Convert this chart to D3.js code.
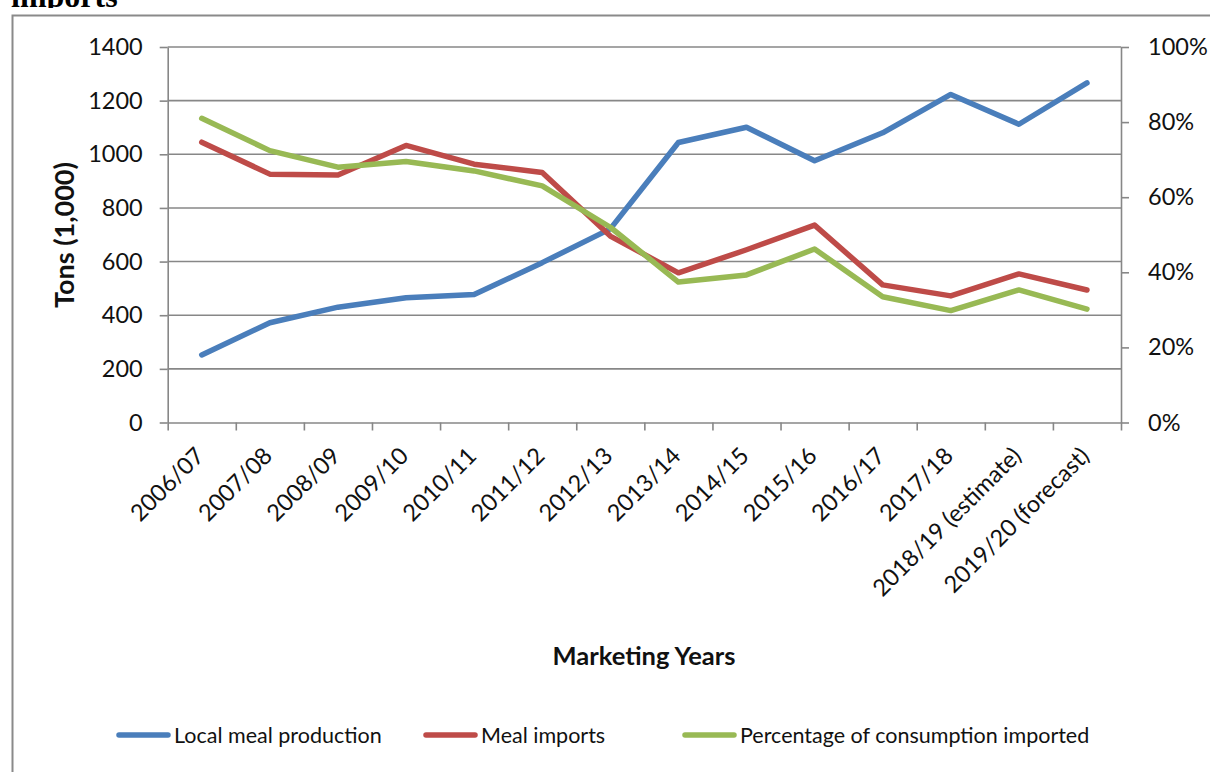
<!DOCTYPE html>
<html>
<head>
<meta charset="utf-8">
<script src="https://cdn.jsdelivr.net/npm/d3@7"></script>
<style>
  html, body { margin: 0; padding: 0; background: #fff; }
  svg { display: block; }
  text { font-family: Lato, "Open Sans", sans-serif; fill: #111; }
</style>
</head>
<body>
<svg id="chart" width="1210" height="772"></svg>
<script>
// Marketing years on the category axis
const years = ["2006/07", "2007/08", "2008/09", "2009/10", "2010/11", "2011/12", "2012/13",
  "2013/14", "2014/15", "2015/16", "2016/17", "2017/18", "2018/19 (estimate)", "2019/20 (forecast)"];

// Tons (1,000)
const localProduction = [252, 372, 430, 465, 477, 596, 722, 1044, 1101, 976, 1080, 1223, 1112, 1266];
const mealImports = [1045, 926, 923, 1033, 963, 932, 695, 558, 644, 736, 513, 472, 554, 494];

// Share of consumption that is imported (secondary axis)
const pctImported = [0.81, 0.724, 0.68, 0.695, 0.67, 0.63, 0.52, 0.374, 0.393, 0.462, 0.335, 0.298, 0.353, 0.302];

const leftTicks = [0, 200, 400, 600, 800, 1000, 1200, 1400];
const rightTicks = [0, 0.2, 0.4, 0.6, 0.8, 1.0];

const seriesNames = ["Local meal production", "Meal imports", "Percentage of consumption imported"];
const seriesColors = ["#4a7ebb", "#be4b48", "#98b954"];

const svg = d3.select("#chart");
const plot = { left: 167.7, right: 1121, top: 47, bottom: 422.5 };
const gridColor = "#878787";

// Page heading, only its lower edge shows above the frame
svg.append("clipPath").attr("id", "headClip")
  .append("rect").attr("x", 0).attr("y", 0).attr("width", 400).attr("height", 8);
svg.append("text")
  .attr("clip-path", "url(#headClip)")
  .attr("x", 11).attr("y", 6.5)
  .style("font-family", "'Liberation Serif', 'Times New Roman', serif")
  .style("font-weight", "bold").style("font-size", "32px").style("fill", "#000")
  .text("imports");

// Chart frame
svg.append("rect")
  .attr("x", 12.5).attr("y", 15.5).attr("width", 1210).attr("height", 780)
  .attr("fill", "none").attr("stroke", "#8a8a8a").attr("stroke-width", 2);

const x = d3.scaleBand().domain(years).range([plot.left, plot.right]).padding(0);
const xEdge = d3.scaleLinear().domain([0, years.length]).range([plot.left, plot.right]);
const y = d3.scaleLinear().domain([0, 1400]).range([plot.bottom, plot.top]);
const y2 = d3.scaleLinear().domain([0, 1]).range([plot.bottom, plot.top]);
const cx = d => x(d) + x.bandwidth() / 2;

// Horizontal gridlines
svg.append("g").selectAll("line")
  .data(leftTicks.filter(t => t > 0)).join("line")
  .attr("x1", plot.left).attr("x2", plot.right)
  .attr("y1", d => y(d)).attr("y2", d => y(d))
  .attr("stroke", gridColor).attr("stroke-width", 1.6);

// Left axis
const gLeft = svg.append("g").attr("transform", `translate(${plot.left},0)`)
  .call(d3.axisLeft(y).tickValues(leftTicks).tickSize(8).tickPadding(17).tickSizeOuter(0)
    .tickFormat(d3.format("d")));
// Right axis
const gRight = svg.append("g").attr("transform", `translate(${plot.right},0)`)
  .call(d3.axisRight(y2).tickValues(rightTicks).tickSize(8).tickPadding(19).tickSizeOuter(0)
    .tickFormat(d3.format(".0%")));
// Bottom axis (ticks on category boundaries)
const gBottom = svg.append("g").attr("transform", `translate(0,${plot.bottom})`)
  .call(d3.axisBottom(xEdge).tickValues(d3.range(0, years.length + 1))
    .tickSize(8).tickFormat("").tickSizeOuter(0));

[gLeft, gRight, gBottom].forEach(g => {
  g.select(".domain").attr("stroke", gridColor).attr("stroke-width", 1.6);
  g.selectAll(".tick line").attr("stroke", gridColor).attr("stroke-width", 1.6);
  g.selectAll(".tick text").style("font-family", "Lato, sans-serif").style("font-size", "23.5px")
    .attr("fill", "#111");
});

// Rotated category labels
svg.append("g").selectAll("text")
  .data(years).join("text")
  .attr("transform", d => `translate(${cx(d) - 2},${plot.bottom + 29}) rotate(-45)`)
  .attr("text-anchor", "end").attr("dy", "0.35em")
  .style("font-size", "23.5px")
  .text(d => d);

// Series lines
const line = (scale) => d3.line().x((d, i) => cx(years[i])).y(d => scale(d));
const series = [
  { values: localProduction, scale: y },
  { values: mealImports, scale: y },
  { values: pctImported, scale: y2 }
];
series.forEach((s, i) => {
  svg.append("path")
    .datum(s.values)
    .attr("d", line(s.scale))
    .attr("fill", "none")
    .attr("stroke", seriesColors[i])
    .attr("stroke-width", 5.5)
    .attr("stroke-linejoin", "round")
    .attr("stroke-linecap", "round");
});

// Axis titles
svg.append("text")
  .attr("transform", `translate(74,235) rotate(-90)`)
  .attr("text-anchor", "middle")
  .style("font-weight", "bold").style("font-size", "27px")
  .text("Tons (1,000)");
svg.append("text")
  .attr("x", 644).attr("y", 665)
  .attr("text-anchor", "middle")
  .style("font-weight", "bold").style("font-size", "25.5px")
  .text("Marketing Years");

// Legend
const legendX = [117, 424, 683];
const legend = svg.append("g").selectAll("g")
  .data(seriesNames).join("g")
  .attr("transform", (d, i) => `translate(${legendX[i]},735)`);
legend.append("line")
  .attr("x1", 2).attr("x2", 51).attr("y1", 0).attr("y2", 0)
  .attr("stroke", (d, i) => seriesColors[i]).attr("stroke-width", 5.5)
  .attr("stroke-linecap", "round");
legend.append("text")
  .attr("x", 57).attr("y", 0).attr("dy", "0.35em")
  .style("font-size", "21.5px")
  .text(d => d);
</script>
</body>
</html>
